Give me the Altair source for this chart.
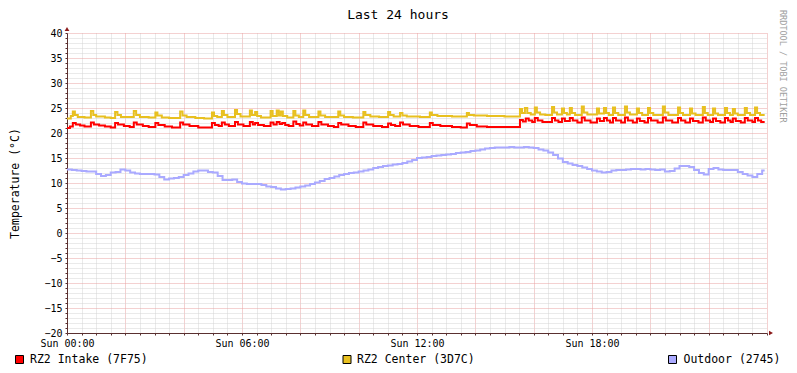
import altair as alt
import pandas as pd

MONO = "DejaVu Sans Mono"

series_names = ["RZ2 Intake (7F75)", "RZ2 Center (3D7C)", "Outdoor (2745)"]
series_colors = ["#FF0000", "#E8C020", "#AAAAFF"]

# Intake: change points (hours, °C)
intake_t = [0.00, 0.10, 0.20, 0.30, 0.45, 0.60, 0.82, 0.92, 1.10, 1.30, 1.50, 1.65, 1.75, 1.95, 2.15,
            2.29, 2.39, 2.60, 2.80, 3.03, 3.13, 3.35, 3.60, 3.88, 3.98, 4.20, 4.50, 4.97, 5.07, 5.20,
            5.31, 5.41, 5.55, 5.76, 5.86, 6.05, 6.27, 6.37, 6.45, 6.55, 6.75, 6.98, 7.08, 7.19, 7.29,
            7.38, 7.48, 7.60, 7.76, 7.86, 7.98, 8.10, 8.20, 8.40, 8.62, 8.72, 8.95, 9.15, 9.30, 9.40,
            9.65, 9.90, 10.16, 10.26, 10.50, 10.80, 11.01, 11.11, 11.25, 11.42, 11.52, 11.75, 12.05,
            12.44, 12.54, 12.80, 13.20, 13.50, 13.71, 13.81, 14.05, 14.40, 15.53, 15.63, 15.73, 15.83,
            15.95, 16.04, 16.14, 16.30, 16.63, 16.73, 16.85, 16.97, 17.07, 17.24, 17.34, 17.50, 17.65,
            17.75, 17.95, 18.17, 18.27, 18.41, 18.51, 18.62, 18.72, 18.82, 19.00, 19.13, 19.23, 19.40,
            19.54, 19.64, 19.80, 19.92, 20.02, 20.25, 20.43, 20.53, 20.75, 20.95, 21.05, 21.20, 21.36,
            21.46, 21.65, 21.80, 21.90, 22.05, 22.15, 22.25, 22.40, 22.56, 22.66, 22.75, 22.83, 22.93,
            23.10, 23.24, 23.34, 23.50, 23.59, 23.69, 23.80, 23.92]
intake_v = [21.0, 21.3, 22.0, 21.7, 21.5, 21.3, 22.1, 21.7, 21.5, 21.3, 21.1, 22.0, 21.7, 21.4, 21.2,
            22.1, 21.7, 21.4, 21.2, 22.0, 21.6, 21.3, 21.1, 22.1, 21.7, 21.4, 21.1, 22.0, 21.6, 21.4,
            22.1, 21.7, 21.4, 22.2, 21.7, 21.4, 22.2, 21.7, 22.0, 21.6, 21.4, 22.1, 21.7, 22.2, 21.8,
            22.0, 21.6, 21.4, 22.3, 21.8, 21.5, 22.1, 21.7, 21.4, 22.2, 21.7, 21.4, 21.2, 22.0, 21.7,
            21.4, 21.2, 22.1, 21.7, 21.4, 21.2, 21.9, 21.6, 21.4, 22.1, 21.7, 21.4, 21.2,
            22.0, 21.6, 21.4, 21.2, 21.1, 21.9, 21.6, 21.3, 21.2, 22.6, 22.3, 22.9, 22.5,
            22.2, 23.0, 22.5, 22.2, 23.0, 22.5, 22.2, 22.9, 22.4, 23.0, 22.5, 22.1, 23.1,
            22.5, 22.1, 22.9, 22.4, 23.0, 22.5, 22.1, 23.0, 22.5, 22.1, 23.1, 22.5, 22.1,
            22.9, 22.4, 22.1, 23.0, 22.5, 22.1, 23.1, 22.5, 22.1, 23.0, 22.5, 22.1, 22.9,
            22.4, 22.1, 23.1, 22.5, 22.2, 22.9, 22.4, 22.1, 23.0, 22.5, 22.2, 22.9, 22.4,
            22.1, 23.0, 22.5, 22.2, 23.0, 22.5, 22.2, 22.2]

# Center: change points (hours, °C)
center_t = [0.00, 0.13, 0.20, 0.27, 0.37, 0.60, 0.82, 0.90, 1.00, 1.30, 1.50, 1.65, 1.73, 1.85, 2.29,
            2.37, 2.50, 2.80, 3.03, 3.10, 3.25, 3.50, 3.88, 3.96, 4.10, 4.40, 4.70, 4.97, 5.04, 5.15,
            5.31, 5.38, 5.50, 5.76, 5.83, 5.95, 6.27, 6.34, 6.45, 6.52, 6.65, 6.98, 7.05, 7.19, 7.26,
            7.33, 7.40, 7.55, 7.76, 7.83, 7.95, 8.10, 8.17, 8.30, 8.62, 8.69, 8.85, 9.30, 9.37, 9.50,
            9.80, 10.16, 10.23, 10.40, 10.70, 11.01, 11.08, 11.20, 11.42, 11.50, 11.65, 12.10, 12.44,
            12.51, 12.70, 13.20, 13.71, 13.78, 13.95, 14.40, 15.00, 15.53, 15.60, 15.70, 15.78, 15.90,
            16.04, 16.11, 16.22, 16.40, 16.63, 16.70, 16.80, 16.97, 17.04, 17.14, 17.24, 17.31, 17.42,
            17.65, 17.72, 17.84, 18.17, 18.24, 18.41, 18.48, 18.58, 18.72, 18.79, 18.90, 19.13, 19.20,
            19.30, 19.54, 19.61, 19.72, 19.92, 19.99, 20.10, 20.43, 20.50, 20.62, 20.95, 21.02, 21.12,
            21.36, 21.43, 21.55, 21.80, 21.87, 21.97, 22.15, 22.22, 22.32, 22.56, 22.63, 22.73, 22.83,
            22.90, 23.00, 23.24, 23.31, 23.42, 23.59, 23.66, 23.76, 23.92]
center_v = [22.9, 23.4, 24.3, 23.6, 23.2, 23.1, 24.4, 23.6, 23.3, 23.1, 23.0, 24.2, 23.6, 23.2, 24.4,
            23.6, 23.2, 23.1, 24.1, 23.5, 23.1, 23.0, 24.3, 23.5, 23.2, 23.0, 22.9, 24.1, 23.4, 23.2,
            24.4, 23.6, 23.2, 24.6, 23.8, 23.3, 24.5, 23.6, 24.2, 23.4, 23.1, 24.4, 23.4, 24.5, 23.5,
            24.3, 23.4, 23.1, 24.4, 23.5, 23.2, 24.5, 23.6, 23.2, 24.3, 23.5, 23.2, 24.3, 23.5, 23.2,
            23.1, 24.2, 23.6, 23.3, 23.2, 24.2, 23.6, 23.3, 24.0, 23.5, 23.3, 23.2, 24.1,
            23.6, 23.4, 23.3, 24.0, 23.6, 23.5, 23.4, 23.3, 24.8, 24.0, 25.0, 24.0, 23.7,
            25.1, 24.1, 23.7, 23.6, 25.2, 24.1, 23.7, 24.9, 24.0, 23.7, 25.0, 24.0, 23.6,
            25.3, 24.1, 23.7, 24.9, 23.9, 25.0, 24.0, 23.6, 25.1, 24.0, 23.6, 25.3, 24.1,
            23.7, 24.9, 24.0, 23.6, 25.0, 24.0, 23.6, 25.3, 24.1, 23.6, 25.1, 24.0, 23.6,
            24.9, 23.9, 23.6, 25.2, 24.0, 23.6, 24.9, 23.9, 23.6, 25.0, 24.0, 23.6, 24.8,
            23.9, 23.6, 25.0, 24.0, 23.6, 25.1, 24.0, 23.6, 23.6]

# Outdoor: 10-minute samples
outdoor_v = [12.7, 12.6, 12.5, 12.4, 12.3, 12.3,
             11.8, 11.4, 11.6, 12.1, 12.2, 12.7,
             12.5, 12.1, 11.9, 11.8, 11.8, 11.8,
             11.7, 11.2, 10.7, 10.9, 11.0, 11.2,
             11.6, 11.9, 12.3, 12.5, 12.5, 12.2,
             12.1, 11.4, 10.6, 10.6, 10.7, 10.2,
             9.9, 9.8, 9.8, 9.8, 9.6, 9.3,
             9.2, 8.9, 8.7, 8.8, 8.9, 9.1,
             9.3, 9.5, 9.8, 10.1, 10.4, 10.8,
             11.0, 11.3, 11.6, 11.8, 12.0, 12.1,
             12.3, 12.5, 12.7, 13.0, 13.2, 13.4,
             13.5, 13.7, 13.8, 14.0, 14.3, 14.6,
             15.0, 15.1, 15.2, 15.4, 15.5, 15.6,
             15.7, 15.8, 16.0, 16.1, 16.2, 16.4,
             16.5, 16.7, 16.9, 17.0, 17.1, 17.1,
             17.1, 17.2, 17.1, 17.1, 17.2, 17.1,
             17.0, 16.7, 16.5, 16.1, 15.6, 14.9,
             14.2, 13.9, 13.6, 13.4, 13.1, 12.8,
             12.5, 12.3, 12.1, 12.2, 12.5, 12.6,
             12.6, 12.7, 12.8, 12.8, 12.7, 12.8,
             12.7, 12.6, 12.7, 12.3, 12.4, 12.9,
             13.4, 13.4, 13.2, 12.6, 12.0, 11.7,
             12.8, 13.0, 12.7, 12.6, 12.6, 12.6,
             12.2, 11.8, 11.5, 11.2, 11.8, 12.5,
             12.5]
outdoor_t = [i / 6 for i in range(144)] + [23.92]

rows = []
for name, ts, vs in [(series_names[0], intake_t, intake_v),
                     (series_names[1], center_t, center_v),
                     (series_names[2], outdoor_t, outdoor_v)]:
    for t, v in zip(ts, vs):
        rows.append({"series": name, "t": t, "v": v})
df = pd.DataFrame(rows)

x_ticks = [i * 0.5 for i in range(49)]
y_ticks = list(range(-20, 41))

MAJOR = "#E9A2A2"
MINOR = "#D4D4D4"
AXISC = "#5a3030"

x_axis = alt.Axis(
    values=x_ticks, grid=True,
    gridColor={"condition": {"test": "datum.value % 2 === 0", "value": MAJOR}, "value": MINOR},
    gridDash=[1, 1], gridWidth=1,
    labelExpr="datum.value % 6 === 0 && datum.value < 24 ? 'Sun ' + (datum.value < 10 ? '0' : '') + datum.value + ':00' : ''",
    labelFlush=False, labelOverlap=False, labelFont=MONO, labelFontSize=10, labelColor="black",
    labelPadding=3, tickSize=2, tickColor=AXISC, domainColor=AXISC, domainWidth=1,
    title="",
)
y_axis = alt.Axis(
    values=y_ticks, grid=True,
    gridColor={"condition": {"test": "datum.value % 5 === 0", "value": MAJOR}, "value": MINOR},
    gridDash=[1, 1], gridWidth=1,
    labelExpr="datum.value % 5 === 0 ? datum.label : ''",
    labelFlush=False, labelOverlap=False, labelFont=MONO, labelFontSize=10, labelColor="black",
    labelPadding=3, tickSize=2, tickColor=AXISC, domainColor=AXISC, domainWidth=1,
    title="Temperature (°C)", titleFont=MONO, titleFontSize=11.5, titleFontWeight="normal",
    titleColor="black", titleX=-52, titleY=150, titleAlign="center", titleBaseline="middle",
    titleAngle=270,
)

lines = alt.Chart(df).mark_line(interpolate="step-after", strokeWidth=2).encode(
    x=alt.X("t:Q", scale=alt.Scale(domain=[0, 24], nice=False, zero=False), axis=x_axis),
    y=alt.Y("v:Q", scale=alt.Scale(domain=[-20, 40], nice=False, zero=False), axis=y_axis),
    color=alt.Color("series:N", scale=alt.Scale(domain=series_names, range=series_colors), legend=None),
    detail="series:N",
)


def text_layer(s, x, y, size, color="black", align="left", angle=0, baseline="alphabetic"):
    return alt.Chart(pd.DataFrame({"s": [s]})).mark_text(
        font=MONO, fontSize=size, align=align, baseline=baseline, color=color, angle=angle
    ).encode(x=alt.value(x), y=alt.value(y), text="s:N")


def box_layer(color, x, y):
    return alt.Chart(pd.DataFrame({"c": [0]})).mark_rect(
        color=color, stroke="black", strokeWidth=1
    ).encode(x=alt.value(x), x2=alt.value(x + 8), y=alt.value(y), y2=alt.value(y + 8))


legend_x_box = [-51.5, 276, 601.5]
legend_x_text = [-37, 290, 616.5]
layers = [lines]
for i in range(3):
    layers.append(box_layer(series_colors[i], legend_x_box[i], 322.5))
    layers.append(text_layer(series_names[i], legend_x_text[i], 329.5, 11.5))

layers.append(text_layer("Last 24 hours", 331, -14, 13, align="center"))
layers.append(text_layer("RRDTOOL / TOBI OETIKER", 716, -23, 8.5, color="#A0A0A0",
                         angle=90, baseline="middle"))

arrow_up = alt.Chart(pd.DataFrame({"c": [0]})).mark_point(
    shape="triangle-up", filled=True, size=22, color="#8B1A1A", opacity=1
).encode(x=alt.value(0), y=alt.value(-4))
arrow_right = alt.Chart(pd.DataFrame({"c": [0]})).mark_point(
    shape="triangle-right", filled=True, size=22, color="#8B1A1A", opacity=1
).encode(x=alt.value(704), y=alt.value(300))
layers += [arrow_up, arrow_right]

chart = alt.layer(*layers).properties(
    width=700, height=300,
    autosize=alt.AutoSizeParams(type="none"),
    padding={"left": 59, "top": 25, "right": 22, "bottom": 32},
    background="white",
).configure_view(strokeWidth=0)

chart.save("out.html", embed_options={"renderer": "svg", "actions": False})
